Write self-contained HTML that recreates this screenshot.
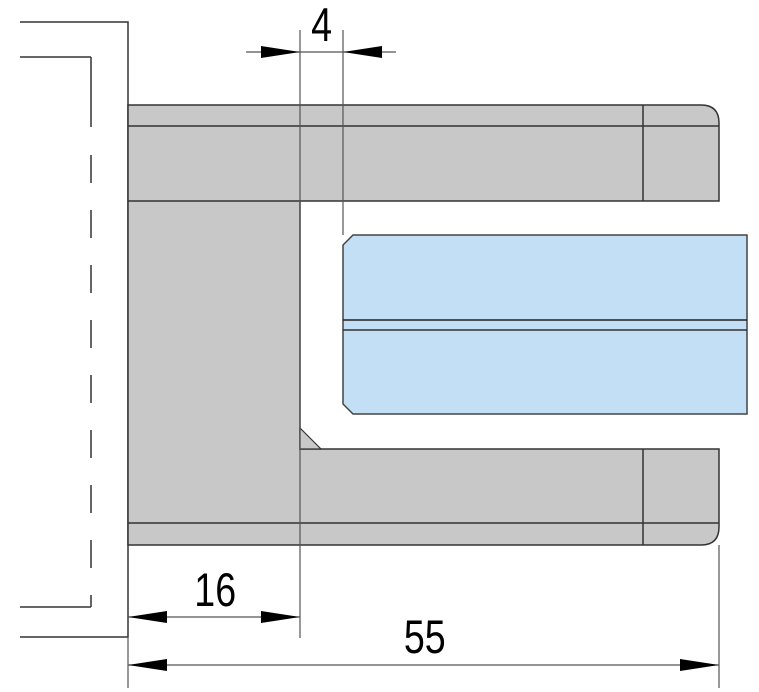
<!DOCTYPE html>
<html><head><style>html,body{margin:0;padding:0;background:#fff}svg{display:block}</style></head>
<body>
<svg width="759" height="692" viewBox="0 0 759 692" xmlns="http://www.w3.org/2000/svg">
<g fill="none" stroke="#333" stroke-width="1.5">
<polyline points="20,22 128,22 128,637 20,637"/>
<line x1="20" y1="57" x2="91" y2="57"/>
<line x1="20" y1="607" x2="91" y2="607"/>
<line x1="91" y1="57" x2="91" y2="607" stroke-dasharray="70 28 28 27 28 27 28 27 28 27 28 27 28 27 28 27 28 27 28 27 28 27 28 27 28 27 28 27 28 27 28 27 28 27 28 27 70"/>
</g>
<path d="M128,105 L701,105 Q719,105 719,123 L719,201 L300,201 L300,449 L719,449 L719,527 Q719,545 701,545 L128,545 Z" fill="#c8c8c8" stroke="#333" stroke-width="1.5"/>
<polygon points="300,428 321,449 300,449" fill="#c8c8c8" stroke="#333" stroke-width="1.2"/>
<g stroke="#333" stroke-width="1.5">
<line x1="128" y1="126" x2="719" y2="126"/>
<line x1="128" y1="201" x2="300" y2="201"/>
<line x1="128" y1="523" x2="719" y2="523"/>
<line x1="643" y1="105" x2="643" y2="201"/>
<line x1="643" y1="449" x2="643" y2="545"/>
</g>
<polygon points="353,235 747,235 747,414 353,414 343,404 343,245" fill="#c2dff5" stroke="#444" stroke-width="1.5"/>
<line x1="343" y1="320" x2="747" y2="320" stroke="#222" stroke-width="1.5"/>
<line x1="343" y1="330" x2="747" y2="330" stroke="#333" stroke-width="1.5"/>
<g stroke="#555" stroke-width="1.2">
<line x1="300" y1="30" x2="300" y2="638"/>
<line x1="343" y1="30" x2="343" y2="235"/>
<line x1="246" y1="52" x2="396" y2="52"/>
<line x1="128" y1="637" x2="128" y2="688"/>
<line x1="719" y1="545" x2="719" y2="688"/>
<line x1="128" y1="617" x2="300" y2="617"/>
<line x1="128" y1="665" x2="719" y2="665"/>
</g>
<g fill="#000">
<polygon points="300,52 261,46 261,58"/>
<polygon points="343,52 382,46 382,58"/>
<polygon points="128,617 167,611 167,623"/>
<polygon points="300,617 261,611 261,623"/>
<polygon points="128,665 167,659 167,671"/>
<polygon points="719,665 680,659 680,671"/>
</g>
<g font-family="Liberation Sans, sans-serif" font-size="47" fill="#000" text-anchor="middle" transform="scale(0.8,1)">
<text x="402" y="41">4</text>
<text x="269" y="606">16</text>
<text x="531" y="653">55</text>
</g>
</svg>
</body></html>
